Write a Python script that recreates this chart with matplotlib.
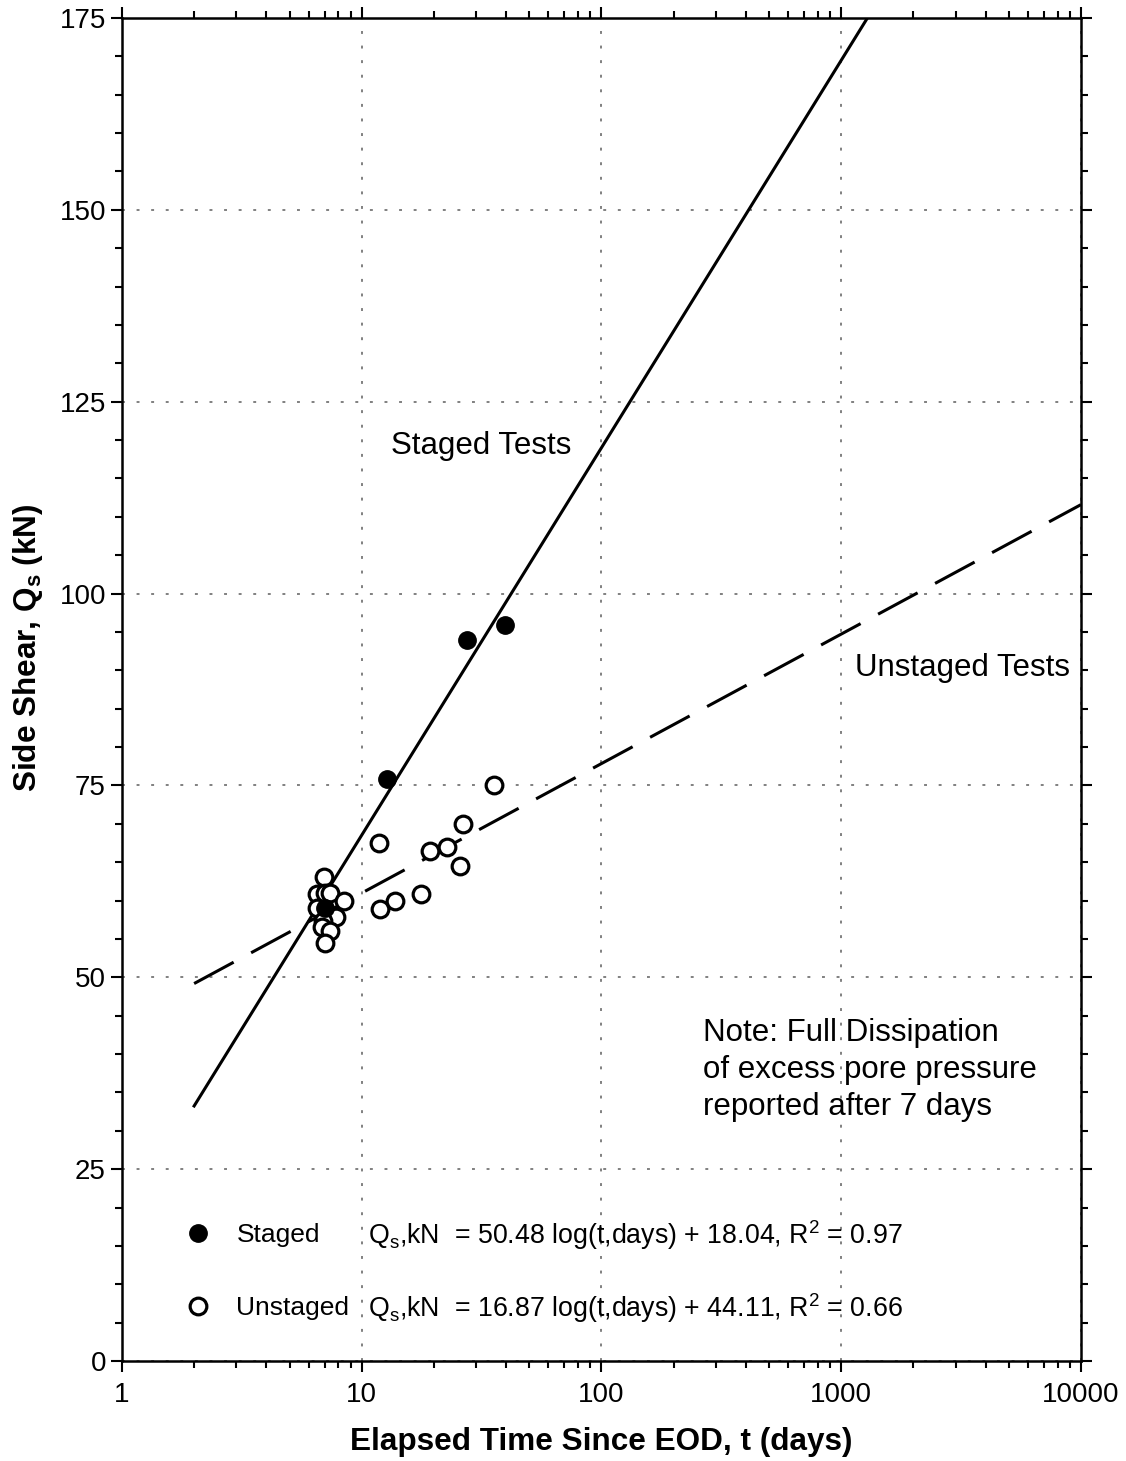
import matplotlib
matplotlib.use("Agg")
import matplotlib.pyplot as plt
from matplotlib.ticker import FixedLocator, LogLocator, NullFormatter, MultipleLocator
import numpy as np

plt.rcParams["font.family"] = ["Liberation Sans", "DejaVu Sans"]
plt.rcParams["mathtext.fontset"] = "custom"
plt.rcParams["mathtext.rm"] = "Liberation Sans"
plt.rcParams["mathtext.it"] = "Liberation Sans:italic"
plt.rcParams["mathtext.bf"] = "Liberation Sans:bold"

# measured side shear vs elapsed time
staged_t = [7.0, 12.8, 27.6, 39.6]
staged_q = [59.0, 75.9, 94.0, 95.9]

unstaged_t = [6.96, 6.5, 7.0, 7.4, 8.4, 6.5, 7.85, 6.9, 6.8, 7.37, 7.0,
              11.8, 11.9, 13.8, 17.7, 19.3, 22.7, 25.7, 26.5, 35.6]
unstaged_q = [63.1, 60.9, 61.0, 61.0, 59.9, 59.0, 57.9, 57.3, 56.6, 56.0, 54.5,
              67.5, 58.9, 60.0, 60.9, 66.5, 67.0, 64.5, 70.0, 75.0]

# regression lines Qs = a*log(t) + b
staged_fit = (50.48, 18.04)
unstaged_fit = (16.87, 44.11)
fit_t = np.array([2.0, 10000.0])

x_ticks = [1, 10, 100, 1000, 10000]
y_ticks = [0, 25, 50, 75, 100, 125, 150, 175]

fig = plt.figure(figsize=(11.26, 14.61), dpi=100)
ax = fig.add_axes([0.1083, 0.0684, 0.8517, 0.9193])

ax.set_xscale("log")
ax.set_xlim(1, 10000)
ax.set_ylim(0, 175)

ax.plot(fit_t, staged_fit[0] * np.log10(fit_t) + staged_fit[1],
        color="black", lw=2.2, zorder=3)
ax.plot(fit_t, unstaged_fit[0] * np.log10(fit_t) + unstaged_fit[1],
        color="black", lw=2.2, ls=(0, (14.7, 6.5)), zorder=3)

h_un, = ax.plot(unstaged_t, unstaged_q, ls="none", marker="o", ms=12,
                mfc="white", mec="black", mew=2.3, zorder=4)
h_st, = ax.plot(staged_t, staged_q, ls="none", marker="o", ms=12.5,
                mfc="black", mec="black", zorder=5)

# axes, ticks and grid
ax.xaxis.set_major_locator(FixedLocator(x_ticks))
ax.set_xticklabels([str(v) for v in x_ticks])
ax.xaxis.set_minor_locator(LogLocator(base=10, subs=np.arange(2, 10), numticks=20))
ax.xaxis.set_minor_formatter(NullFormatter())
ax.yaxis.set_major_locator(FixedLocator(y_ticks))
ax.yaxis.set_minor_locator(MultipleLocator(5))

ax.tick_params(which="both", direction="out", top=True, right=True,
               width=1.5, labelsize=20, colors="black")
ax.tick_params(which="major", length=8)
ax.tick_params(which="minor", length=5)
ax.tick_params(axis="x", pad=7)
for s in ax.spines.values():
    s.set_linewidth(1.8)

ax.grid(True, which="major", color="#808080", lw=1.4, ls=(0, (1.5, 6)))
ax.set_axisbelow(True)

ax.set_xlabel("Elapsed Time Since EOD, t (days)", fontsize=22.7,
              fontweight="bold", labelpad=14)
ax.set_ylabel(r"Side Shear, $\mathbf{Q_s}$ (kN)", fontsize=22.7,
              fontweight="bold")
ax.yaxis.set_label_coords(-0.08, 0.531)

# annotations
ax.text(13.2, 119.2, "Staged Tests", fontsize=22.5, ha="left", va="center")
ax.text(1141, 90.3, "Unstaged Tests", fontsize=22.5, ha="left", va="center")
ax.text(265, 37.9, "Note: Full Dissipation\nof excess pore pressure\nreported after 7 days",
        fontsize=22.5, ha="left", va="center", linespacing=1.31)

ax.legend([h_st, h_un], ["Staged", "Unstaged"], loc="upper left",
          bbox_to_anchor=(0.0657, 0.1028), frameon=False, fontsize=19,
          handlelength=1.0, handletextpad=0.95, labelspacing=1.87,
          borderpad=0, borderaxespad=0)

ax.text(10.6, 16.45, r"$\mathregular{Q_s}$,kN  = 50.48 log(t,days) + 18.04, R$^\mathregular{2}$ = 0.97",
        fontsize=19.3, ha="left", va="center")
ax.text(10.6, 6.95, r"$\mathregular{Q_s}$,kN  = 16.87 log(t,days) + 44.11, R$^\mathregular{2}$ = 0.66",
        fontsize=19.3, ha="left", va="center")

fig.savefig("out.png", dpi=100)
